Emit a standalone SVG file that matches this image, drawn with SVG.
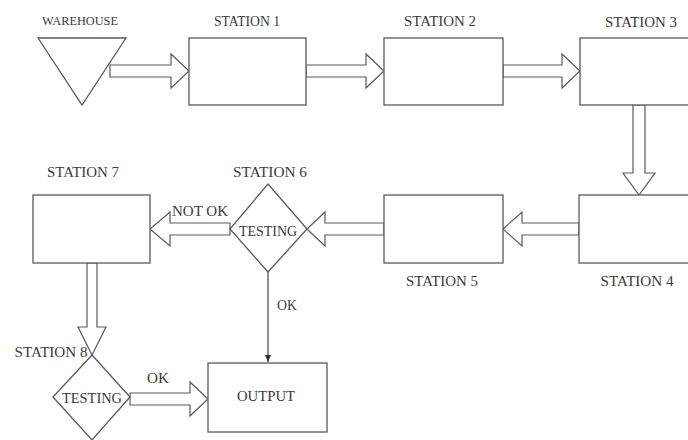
<svg xmlns="http://www.w3.org/2000/svg" width="688" height="440" viewBox="0 0 688 440">
<style>
.s{fill:#fff;stroke:#5a5a5a;stroke-width:1.3}
.a{fill:#fff;stroke:#5a5a5a;stroke-width:1.2;stroke-linejoin:miter}
.l{fill:none;stroke:#444;stroke-width:1.2}
text{font-family:"Liberation Serif","Times New Roman",serif;font-size:14px;fill:#3a3a3a;text-anchor:middle}
</style>
<defs>
<marker id="ah" markerWidth="8" markerHeight="8" refX="7" refY="4" orient="auto" markerUnits="userSpaceOnUse">
<path d="M0,1 L7,4 L0,7 z" fill="#333"/>
</marker>
</defs>
<rect width="688" height="440" fill="#fff"/>
<g id="connectors">
<polygon class="a" points="110,65 171,65 171,54 189,71 171,88 171,77 110,77"/>
<polygon class="a" points="306,65 366,65 366,54 384,71 366,88 366,77 306,77"/>
<polygon class="a" points="503,65 562,65 562,54 580,71 562,88 562,77 503,77"/>
<polygon class="a" points="633,105 633,173 623,173 639,195 655,173 645,173 645,105"/>
<polygon class="a" points="579,223 522,223 522,212 503,229 522,246 522,235 579,235"/>
<polygon class="a" points="384,223 325,223 325,212 307,229 325,246 325,235 384,235"/>
<polygon class="a" points="230,223 170,223 170,212 150,229 170,246 170,235 230,235"/>
<polygon class="a" points="87,263 87,327 78,327 92,355 106,327 97,327 97,263"/>
<polygon class="a" points="130,393 190,393 190,382 208,399 190,416 190,405 130,405"/>
<line class="l" x1="268" y1="272" x2="268" y2="362" marker-end="url(#ah)"/>
<text x="200" y="216" textLength="56" lengthAdjust="spacingAndGlyphs">NOT OK</text>
<text x="287" y="310" textLength="20" lengthAdjust="spacingAndGlyphs">OK</text>
<text x="158" y="383" textLength="22" lengthAdjust="spacingAndGlyphs">OK</text>
</g>
<g id="warehouse">
<polygon class="s" points="38,38 126,38 82,105"/>
<text x="80" y="25" font-size="12" style="font-size:12px" textLength="76" lengthAdjust="spacingAndGlyphs">WAREHOUSE</text>
</g>
<g id="station1">
<rect class="s" x="189" y="38" width="117" height="67"/>
<text x="247" y="26" textLength="66" lengthAdjust="spacingAndGlyphs">STATION 1</text>
</g>
<g id="station2">
<rect class="s" x="384" y="38" width="119" height="67"/>
<text x="440" y="26" textLength="72" lengthAdjust="spacingAndGlyphs">STATION 2</text>
</g>
<g id="station3">
<rect class="s" x="580" y="38" width="120" height="67"/>
<text x="641" y="27" textLength="72" lengthAdjust="spacingAndGlyphs">STATION 3</text>
</g>
<g id="station4">
<rect class="s" x="579" y="195" width="120" height="68"/>
<text x="637" y="286" textLength="73" lengthAdjust="spacingAndGlyphs">STATION 4</text>
</g>
<g id="station5">
<rect class="s" x="384" y="195" width="119" height="68"/>
<text x="442" y="286" textLength="72" lengthAdjust="spacingAndGlyphs">STATION 5</text>
</g>
<g id="station6">
<polygon class="s" points="268,184 307,229 268,272 230,229"/>
<text x="270" y="177" textLength="74" lengthAdjust="spacingAndGlyphs">STATION 6</text>
<text x="268" y="236" textLength="58" lengthAdjust="spacingAndGlyphs">TESTING</text>
</g>
<g id="station7">
<rect class="s" x="33" y="195" width="117" height="68"/>
<text x="83" y="177" textLength="72" lengthAdjust="spacingAndGlyphs">STATION 7</text>
</g>
<g id="station8">
<polygon class="s" points="92,355 130,397 92,440 53,397"/>
<text x="51" y="357" textLength="73" lengthAdjust="spacingAndGlyphs">STATION 8</text>
<text x="92" y="403" textLength="60" lengthAdjust="spacingAndGlyphs">TESTING</text>
</g>
<g id="output">
<rect class="s" x="208" y="363" width="119" height="69"/>
<text x="266" y="401" textLength="58" lengthAdjust="spacingAndGlyphs">OUTPUT</text>
</g>
</svg>
